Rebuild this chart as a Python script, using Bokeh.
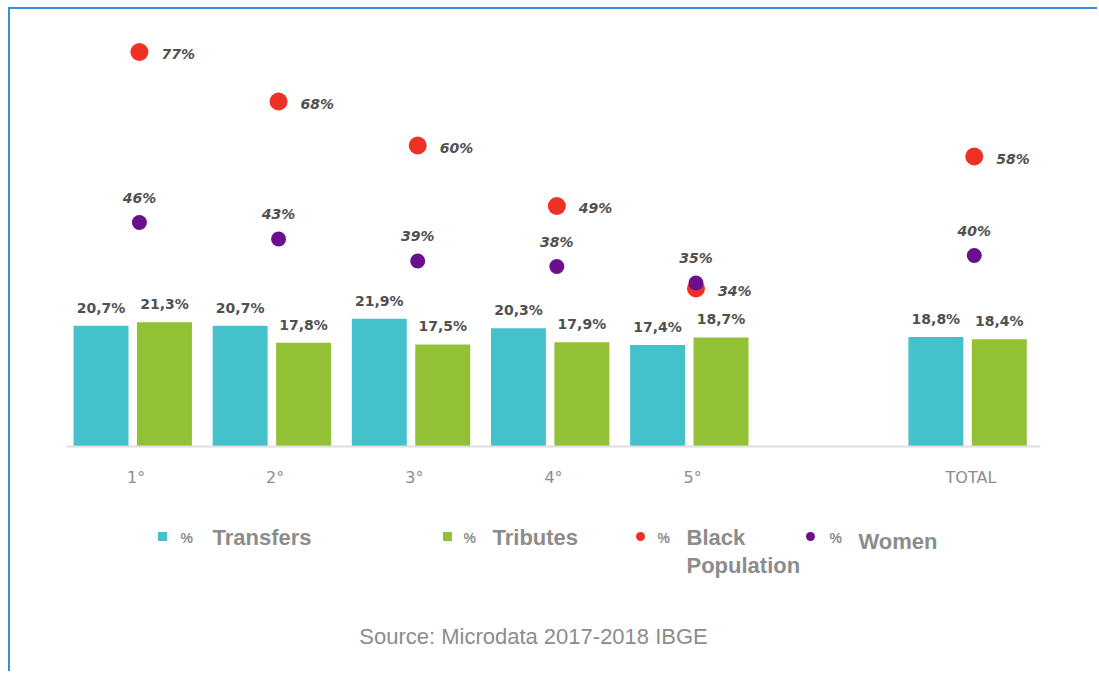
from bokeh.plotting import figure
from bokeh.models import Range1d, FactorRange, ColumnDataSource
from bokeh.transform import dodge
from bokeh.core.properties import value
from bokeh.embed import file_html
from bokeh.resources import INLINE

# ---- data ----
categories = ["1°", "2°", "3°", "4°", "5°", " ", "TOTAL"]
groups = ["1°", "2°", "3°", "4°", "5°", "TOTAL"]
transfers = [20.7, 20.7, 21.9, 20.3, 17.4, 18.8]
tributes = [21.3, 17.8, 17.5, 17.9, 18.7, 18.4]
black_population = [77, 68, 60, 49, 34, 58]
women = [46, 43, 39, 38, 35, 40]
legend_names = ["Transfers", "Tributes", "Black", "Women"]
source_note = "Source: Microdata 2017-2018 IBGE"

# ---- styles ----
TEAL = "#45c1cc"
GREEN = "#92c135"
RED = "#ee3124"
PURPLE = "#6a0f8e"
GRAY = "#8c8c8c"
DARK = "#505050"
LBL_FONT = value("DejaVu Sans")


def pct1(v):
    return f"{v:.1f}%".replace(".", ",")


src = ColumnDataSource(dict(
    cat=groups,
    transfers=transfers,
    tributes=tributes,
    black=black_population,
    women=women,
    t_lbl=[pct1(v) for v in transfers],
    r_lbl=[pct1(v) for v in tributes],
    b_lbl=[f"{v}%" for v in black_population],
    w_lbl=[f"{v}%" for v in women],
))

# layout: figure content begins at page (10, 9)
W, H = 1089, 664
PAGE_X0, PAGE_Y0 = 10, 9
FL, FR = 56, 1030            # frame left/right in figure px
CAT_PX = (FR - FL) / 7.0      # pixels per category
BASE_PY, PY_UNIT = 446.0, 5.83     # bar baseline on page, px per % (bars)
POP_ZERO_PY, POP_UNIT = 475.0, 5.5  # dot scale

p = figure(
    x_range=FactorRange(factors=categories, range_padding=0),
    y_range=Range1d((BASE_PY - (PAGE_Y0 + H)) / PY_UNIT, (BASE_PY - PAGE_Y0) / PY_UNIT),
    width=W, height=H,
    output_backend="svg", toolbar_location=None,
    min_border_left=FL, min_border_right=W - FR,
    min_border_top=0, min_border_bottom=0,
)
p.extra_y_ranges = {"pop": Range1d((POP_ZERO_PY - (PAGE_Y0 + H)) / POP_UNIT,
                                   (POP_ZERO_PY - PAGE_Y0) / POP_UNIT)}
p.styles = {"border-top": "2px solid #3a8ed8", "border-left": "2px solid #3a8ed8",
            "margin-left": "8px", "margin-top": "7px"}
p.outline_line_color = None
p.background_fill_color = "white"
p.border_fill_color = "white"
p.xgrid.visible = False
p.ygrid.visible = False
p.yaxis.visible = False

ax = p.xaxis[0]
ax.fixed_location = 0
ax.axis_line_color = "#dedede"
ax.axis_line_width = 2
ax.major_tick_line_color = None
ax.minor_tick_line_color = None
ax.major_label_text_color = GRAY
ax.major_label_text_font = "DejaVu Sans"
ax.major_label_text_font_size = "16px"
ax.major_label_standoff = 15

T_OFF, R_OFF, D_OFF = -0.252, 0.204, 0.024
BW = 0.395
p.vbar(x=dodge("cat", T_OFF, range=p.x_range), top="transfers", width=BW,
       source=src, fill_color=TEAL, line_color=None)
p.vbar(x=dodge("cat", R_OFF, range=p.x_range), top="tributes", width=BW,
       source=src, fill_color=GREEN, line_color=None)

p.text(x=dodge("cat", T_OFF, range=p.x_range), y="transfers", text="t_lbl",
       source=src, text_font=LBL_FONT, text_font_style="bold", text_font_size="14px",
       text_color=DARK, text_align="center", text_baseline="bottom", y_offset=-10)
p.text(x=dodge("cat", R_OFF, range=p.x_range), y="tributes", text="r_lbl",
       source=src, text_font=LBL_FONT, text_font_style="bold", text_font_size="14px",
       text_color=DARK, text_align="center", text_baseline="bottom", y_offset=-10)

p.scatter(x=dodge("cat", D_OFF, range=p.x_range), y="black", y_range_name="pop",
          source=src, size=18, fill_color=RED, line_color=None)
p.scatter(x=dodge("cat", D_OFF, range=p.x_range), y="women", y_range_name="pop",
          source=src, size=15, fill_color=PURPLE, line_color=None)

p.text(x=dodge("cat", D_OFF, range=p.x_range), y="black", text="b_lbl", y_range_name="pop",
       source=src, text_font=LBL_FONT, text_font_style="bold italic", text_font_size="14px",
       text_color=DARK, text_align="left", text_baseline="middle", x_offset=22, y_offset=2)
p.text(x=dodge("cat", D_OFF, range=p.x_range), y="women", text="w_lbl", y_range_name="pop",
       source=src, text_font=LBL_FONT, text_font_style="bold italic", text_font_size="14px",
       text_color=DARK, text_align="center", text_baseline="bottom", y_offset=-17)


# ---- legend & source as text glyphs (page pixel layout -> data units) ----
def X(px):
    return (px - PAGE_X0 - FL) / CAT_PX


def Y(py):
    return (BASE_PY - py) / PY_UNIT


def txt(xs, ys, texts, color, size, style="normal", font="Liberation Sans", align="left"):
    p.text(x=[X(v) for v in xs], y=[Y(v) for v in ys], text=texts,
           text_color=color, text_font_size=size, text_font_style=style,
           text_font=value(font), text_align=align, text_baseline="middle")


marker_px = [162, 447, 640, 810]
pct_px = [180, 463, 657, 829]
name_px = [212, 492, 686, 858]
name_py = [537, 537, 537, 541]

p.scatter(x=[X(v) for v in marker_px[:2]], y=[Y(536)] * 2, marker="square", size=9,
          fill_color=[TEAL, GREEN], line_color=None)
p.scatter(x=[X(v) for v in marker_px[2:]], y=[Y(536)] * 2, marker="circle", size=9,
          fill_color=[RED, PURPLE], line_color=None)
txt(pct_px, [537] * 4, ["%"] * 4, GRAY, "14px", style="bold")
txt(name_px, name_py, legend_names, GRAY, "22px", style="bold")
txt([686], [565], ["Population"], GRAY, "22px", style="bold")
txt([533], [636], [source_note], GRAY, "22px", align="center")

open("out.html", "w").write(file_html(p, INLINE))
